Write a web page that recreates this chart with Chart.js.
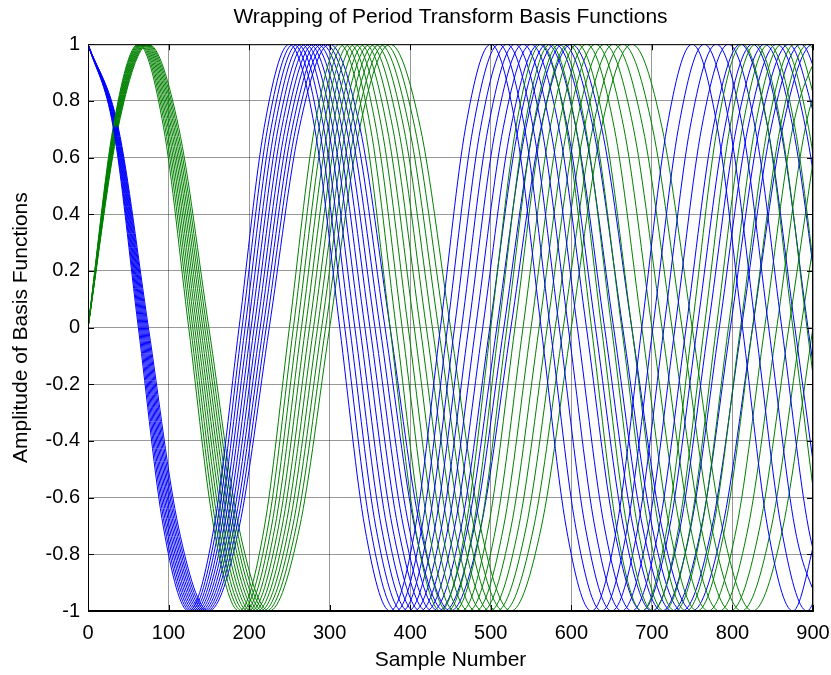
<!DOCTYPE html>
<html>
<head>
<meta charset="utf-8">
<script src="https://cdn.jsdelivr.net/npm/chart.js@4.4.1/dist/chart.umd.min.js"></script>
<style>
  html, body { margin: 0; padding: 0; background: #fff; }
  #wrap { width: 831px; height: 675px; }
</style>
</head>
<body>
<div id="wrap"><canvas id="chart"></canvas></div>
<script>
// Periods (samples) of the basis functions
const periods = [250, 255, 260, 265, 270, 275, 280, 285, 290, 295, 300];
// One period of each basis function, sampled every 1/8 period
const cosShape = [1, 0.707, 0, -0.707, -1, -0.707, 0, 0.707];
const sinShape = [0, 0.707, 1, 0.707, 0, -0.707, -1, -0.707];
// Axes
const xTicks = [0, 100, 200, 300, 400, 500, 600, 700, 800, 900];
const yTicks = [-1, -0.8, -0.6, -0.4, -0.2, 0, 0.2, 0.4, 0.6, 0.8, 1];

const FONT = "'Liberation Sans', Arial, sans-serif";
const lastSample = xTicks[xTicks.length - 1];

// key points of one curve: repeat the shape along the period
function curve(p, shape) {
  const pts = [];
  for (let k = 0; (k - 1) * p / shape.length <= lastSample; k++) {
    pts.push({ x: k * p / shape.length, y: shape[k % shape.length] });
  }
  return pts;
}

const datasets = [];
periods.forEach(p => {
  datasets.push({ data: curve(p, cosShape), borderColor: '#0000ff' });
  datasets.push({ data: curve(p, sinShape), borderColor: '#008000' });
});

// box round the plot with inward tick marks, MATLAB style
const boxPlugin = {
  id: 'box',
  afterDraw(chart) {
    const { ctx, chartArea: a, scales } = chart;
    ctx.save();
    ctx.strokeStyle = '#000';
    ctx.lineWidth = 1;
    ctx.strokeRect(a.left + 0.5, a.top + 0.5, a.right - a.left - 1, a.bottom - a.top - 1);
    ctx.beginPath();
    xTicks.forEach(v => {
      const x = Math.round(scales.x.getPixelForValue(v)) + 0.5;
      ctx.moveTo(x, a.bottom); ctx.lineTo(x, a.bottom - 6);
      ctx.moveTo(x, a.top); ctx.lineTo(x, a.top + 6);
    });
    yTicks.forEach(v => {
      const y = Math.round(scales.y.getPixelForValue(v)) + 0.5;
      ctx.moveTo(a.left, y); ctx.lineTo(a.left + 6, y);
      ctx.moveTo(a.right, y); ctx.lineTo(a.right - 6, y);
    });
    ctx.stroke();
    ctx.restore();
  }
};

new Chart(document.getElementById('chart'), {
  type: 'line',
  data: { datasets: datasets },
  options: {
    responsive: true,
    maintainAspectRatio: false,
    animation: false,
    parsing: false,
    layout: { padding: { left: 0, right: 18, top: 0, bottom: 0 } },
    elements: {
      line: { borderWidth: 1, cubicInterpolationMode: 'monotone', fill: false },
      point: { radius: 0 }
    },
    plugins: {
      legend: { display: false },
      tooltip: { enabled: false },
      title: {
        display: true,
        text: 'Wrapping of Period Transform Basis Functions',
        fullSize: false,
        color: '#000',
        font: { family: FONT, size: 21, weight: 'normal' },
        padding: { top: 5, bottom: 14 }
      }
    },
    scales: {
      x: {
        type: 'linear',
        min: 0,
        max: 900,
        afterBuildTicks: s => { s.ticks = xTicks.map(v => ({ value: v })); },
        afterFit: s => { s.height = 64; s.paddingLeft = 0; s.paddingRight = 0; },
        ticks: { color: '#000', font: { family: FONT, size: 20 }, padding: 10, maxRotation: 0 },
        grid: { color: 'rgba(0,0,0,0.4)', drawTicks: false },
        border: { color: '#000' },
        title: {
          display: true, text: 'Sample Number', color: '#000',
          font: { family: FONT, size: 21 }, padding: { top: 0, bottom: 2 }
        }
      },
      y: {
        min: -1,
        max: 1,
        afterBuildTicks: s => { s.ticks = yTicks.map(v => ({ value: v })); },
        afterFit: s => { s.width = 88; s.paddingTop = 0; s.paddingBottom = 0; },
        ticks: {
          color: '#000', font: { family: FONT, size: 20 }, padding: 8,
          callback: v => String(Number(v.toFixed(1)))
        },
        grid: { color: 'rgba(0,0,0,0.4)', drawTicks: false },
        border: { color: '#000' },
        title: {
          display: true, text: 'Amplitude of Basis Functions', color: '#000',
          font: { family: FONT, size: 21 }, padding: { top: 9, bottom: 0 }
        }
      }
    }
  },
  plugins: [boxPlugin]
});
</script>
</body>
</html>
